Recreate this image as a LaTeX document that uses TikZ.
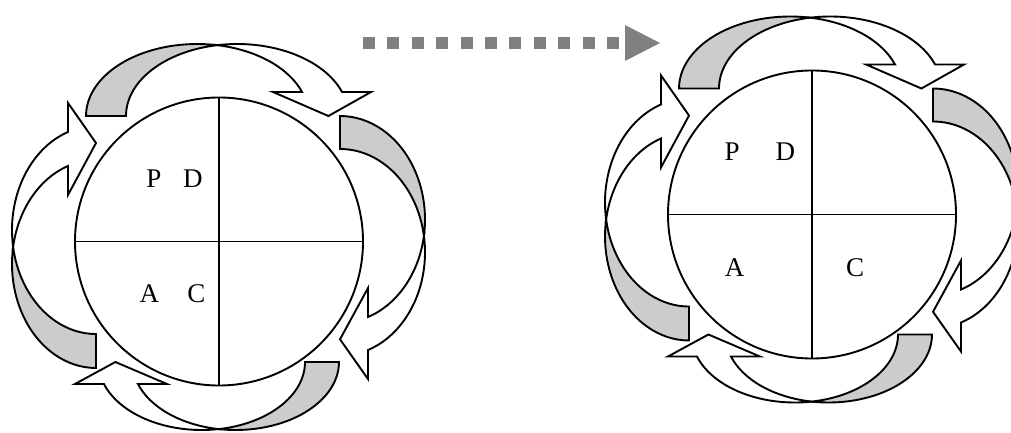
\documentclass[tikz,border=0pt]{standalone}
\usepackage{fontspec}
\setmainfont{Liberation Serif}
\definecolor{bandgray}{RGB}{204,204,204}
\definecolor{flowgray}{RGB}{128,128,128}
\definecolor{ink}{RGB}{0,0,0}

\begin{document}
\begin{tikzpicture}[x=1pt,y=1pt,
 every node/.style={font=\fontsize{27}{31}\selectfont},
 backband/.style={fill=bandgray,draw=ink,line width=1.9pt},
 frontband/.style={fill=white,draw=ink,line width=1.9pt},
 wheel/.style={circle,draw=ink,line width=1.9pt,minimum size=288pt,
   inner sep=0pt,outer sep=0pt},
 spoke/.style={ink,line width=1.9pt},
 flow/.style={flowgray,line width=12pt,dash pattern=on 12pt off 12.4pt}]
\useasboundingbox (0,0) rectangle (1011,432);
\foreach \dx/\dy in {0/0,593/27.5}{
 \begin{scope}[shift={(\dx,\dy)}]
 \foreach \ox/\oy/\rot/\Rad/\Hgt/\Th/\Ah in
  {86/316/0/111.2/72/40/24,340/316/-90/103.4/85/33/28,
   339/70/180/103.3/68/34/22,96/64/90/104/84/34/28}{
  \begin{scope}[shift={(\ox,\oy)},rotate=\rot]
   \pgfmathsetmacro{\Ameet}{acos(\Th/(2*\Rad))}
   \pgfmathsetmacro{\Bmeet}{180-\Ameet}
   \pgfmathsetmacro{\Abase}{asin(\Ah/\Hgt)}
   \pgfmathsetmacro{\xin}{\Rad+\Rad*cos(\Abase)}
   \pgfmathsetmacro{\xbarb}{\xin-29}
   \pgfmathsetmacro{\xtip}{2*\Rad+\Th/2}
   \pgfmathsetmacro{\xmeet}{\Rad+\Th/2}
   \pgfmathsetmacro{\ymeet}{\Hgt*sin(\Ameet)}
   \path[backband] (0,0)
    arc[start angle=180,end angle=\Ameet,x radius=\Rad,y radius=\Hgt]
    arc[start angle=\Bmeet,end angle=180,x radius=\Rad,y radius=\Hgt]--cycle;
   \path[frontband] (\xmeet,\ymeet)
    arc[start angle=\Bmeet,end angle=\Abase,x radius=\Rad,y radius=\Hgt]
    --++(29,0)--(\xtip,0)--(\xbarb,\Ah)--(\xin,\Ah)
    arc[start angle=\Abase,end angle=\Ameet,x radius=\Rad,y radius=\Hgt]--cycle;
  \end{scope}}
 \end{scope}}

\node[wheel] (wheelL) at (219,190.5) {};
\draw[spoke] (wheelL.north)--(wheelL.south);
\draw[spoke] (wheelL.west)--(wheelL.east);
\node (planL) at (153.8,253.3) {P};
\node (doL) at (192.8,253.3) {D};
\node (actL) at (149.3,138.7) {A};
\node (checkL) at (196.3,138.7) {C};

\node[wheel] (wheelR) at (812,217.5) {};
\draw[spoke] (wheelR.north)--(wheelR.south);
\draw[spoke] (wheelR.west)--(wheelR.east);
\node (planR) at (732.2,280.3) {P};
\node (doR) at (785.3,280.3) {D};
\node (actR) at (734.7,164.5) {A};
\node (checkR) at (855,164.5) {C};

\coordinate (flowstart) at (363,389);
\coordinate (flowend) at (619,389);
\coordinate (headtip) at (660,389);
\draw[flow] (flowstart)--(flowend);
\fill[flowgray] (625,407)--(headtip)--(625,371)--cycle;
\end{tikzpicture}
\end{document}
